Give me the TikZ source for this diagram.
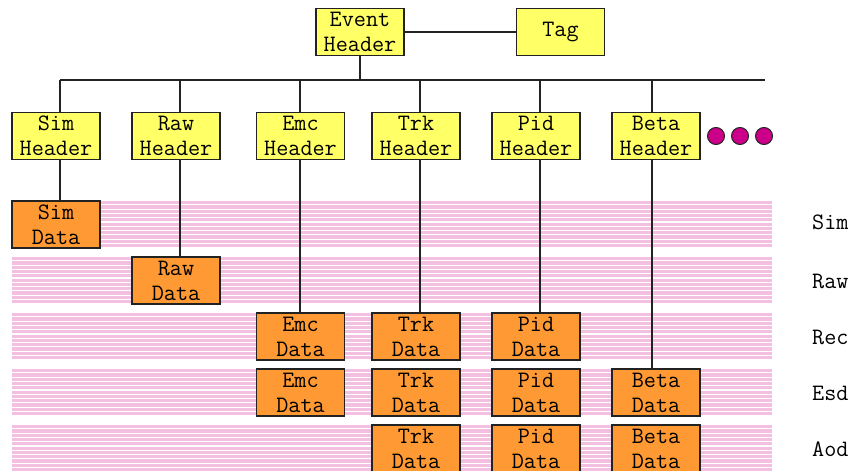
\documentclass[tikz,border=0pt]{standalone}
\definecolor{hdrfill}{HTML}{FFFF66}
\definecolor{datafill}{HTML}{FF9933}
\definecolor{stripepink}{HTML}{F4C0E2}
\definecolor{dotfill}{HTML}{CC0088}
\definecolor{edge}{HTML}{222222}
\tikzset{
  box/.style={draw=edge, line width=1.2pt, minimum width=88pt, minimum height=47pt, inner sep=0pt, align=center, font=\ttfamily\fontsize{23.5}{25}\selectfont},
  hdr/.style={box, fill=hdrfill},
  dat/.style={box, fill=datafill},
  conn/.style={draw=edge, line width=1.2pt},
  lbl/.style={font=\ttfamily\fontsize{23.5}{25}\selectfont, anchor=west, inner sep=0pt},
  dot/.style={circle, draw=edge, line width=1pt, fill=dotfill, minimum size=17pt, inner sep=0pt}
}
\begin{document}
\begin{tikzpicture}[x=1pt,y=-1pt]
\useasboundingbox (0,0) rectangle (855,471);
% stripes
\foreach \yy in {201,257,313,369,425}{
  \foreach \i in {0,...,10}{
    \fill[stripepink] (12,\yy+\i*4.3) rectangle (772,\yy+\i*4.3+3.2);
  }
}
% top
\node[hdr] (ev) at (360,32) {Event\\Header};
\node[hdr] (tag) at (560.5,32) {Tag};
\draw[conn] (ev) -- (tag);
\coordinate (busL) at (60,80);
\coordinate (busR) at (765,80);
\draw[conn] (busL) -- (busR);
\draw[conn] (ev.south) -- (ev.south |- busL);
% headers
\node[hdr] (simh) at (56,136) {Sim\\Header};
\node[hdr] (rawh) at (176,136) {Raw\\Header};
\node[hdr] (emch) at (300.5,136) {Emc\\Header};
\node[hdr] (trkh) at (416,136) {Trk\\Header};
\node[hdr] (pidh) at (536,136) {Pid\\Header};
\node[hdr] (betah) at (656,136) {Beta\\Header};
% dots
\node[dot] (d1) at (716,136) {};
\node[dot] (d2) at (740,136) {};
\node[dot] (d3) at (764,136) {};
% data
\node[dat] (simd) at (56,224.5) {Sim\\Data};
\node[dat] (rawd) at (176,280.5) {Raw\\Data};
\node[dat] (emcr) at (300.5,336.5) {Emc\\Data};
\node[dat] (trkr) at (416,336.5) {Trk\\Data};
\node[dat] (pidr) at (536,336.5) {Pid\\Data};
\node[dat] (emce) at (300.5,392.5) {Emc\\Data};
\node[dat] (trke) at (416,392.5) {Trk\\Data};
\node[dat] (pide) at (536,392.5) {Pid\\Data};
\node[dat] (betae) at (656,392.5) {Beta\\Data};
\node[dat] (trka) at (416,448.5) {Trk\\Data};
\node[dat] (pida) at (536,448.5) {Pid\\Data};
\node[dat] (betaa) at (656,448.5) {Beta\\Data};
% verticals
\coordinate (c1) at (60,80);
\coordinate (c2) at (180,80);
\coordinate (c3) at (300,80);
\coordinate (c4) at (420,80);
\coordinate (c5) at (540,80);
\coordinate (c6) at (652,80);
\draw[conn] (c1) -- (c1 |- simh.north);
\draw[conn] (c1 |- simh.south) -- (c1 |- simd.north);
\draw[conn] (c2) -- (c2 |- rawh.north);
\draw[conn] (c2 |- rawh.south) -- (c2 |- rawd.north);
\draw[conn] (c3) -- (c3 |- emch.north);
\draw[conn] (c3 |- emch.south) -- (c3 |- emcr.north);
\draw[conn] (c4) -- (c4 |- trkh.north);
\draw[conn] (c4 |- trkh.south) -- (c4 |- trkr.north);
\draw[conn] (c5) -- (c5 |- pidh.north);
\draw[conn] (c5 |- pidh.south) -- (c5 |- pidr.north);
\draw[conn] (c6) -- (c6 |- betah.north);
\draw[conn] (c6 |- betah.south) -- (c6 |- betae.north);
% row labels
\node[lbl] (lsim) at (812,222) {Sim};
\node[lbl] (lraw) at (812,281) {Raw};
\node[lbl] (lrec) at (812,337) {Rec};
\node[lbl] (lesd) at (812,393) {Esd};
\node[lbl] (laod) at (812,449) {Aod};
\end{tikzpicture}
\end{document}
